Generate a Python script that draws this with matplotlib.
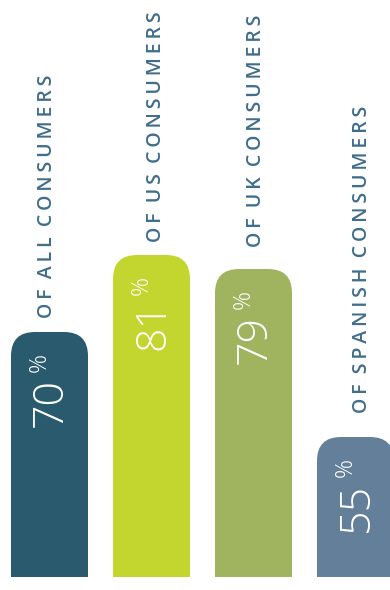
import matplotlib
matplotlib.use("Agg")
import matplotlib.pyplot as plt
from matplotlib.patches import FancyBboxPatch

labels = ["OF ALL CONSUMERS", "OF US CONSUMERS", "OF UK CONSUMERS", "OF SPANISH CONSUMERS"]
values = [70, 81, 79, 55]
colors = ["#2a5a6d", "#c2d62f", "#a0b35f", "#647f99"]
BASE = 35                      # value axis starts here (bars are height 7px per unit above 35)

W_PX, H_PX = 390, 590
PX_X, PX_Y = 102, 7            # pixels per x unit / per y unit
BOTTOM_PX = 13
label_gap = [10, 9, 16, 17]    # points between bar top and its caption
label_dx = [-1.5, 3, 2, 5]     # captions drift slightly right across the chart

fig = plt.figure(figsize=(W_PX / 100, H_PX / 100), dpi=100)
ax = fig.add_axes([0, BOTTOM_PX / H_PX, 1, 1 - BOTTOM_PX / H_PX])
ax.set_xlim(-49.5 / PX_X, (W_PX - 49.5) / PX_X)
ax.set_ylim(BASE, BASE + (H_PX - BOTTOM_PX) / PX_Y)
ax.axis("off")

w = 77 / PX_X
r = 24 / PX_X
asp = PX_X / PX_Y
sp = "\u2009"
num_font = ["Open Sans", "DejaVu Sans"]
for i, (lab, v, c) in enumerate(zip(labels, values, colors)):
    p = FancyBboxPatch((i - w / 2, BASE - 6), w, v - BASE + 6,
                       boxstyle=f"round,pad=0,rounding_size={r}",
                       mutation_aspect=asp, fc=c, ec="none", clip_on=True)
    ax.add_patch(p)
    ax.annotate(f"{v}", xy=(i, v), xytext=(1, -33), textcoords="offset points",
                rotation=90, ha="center", va="top", color="white",
                fontsize=31, fontweight="light", family=num_font)
    ax.annotate("%", xy=(i, v), xytext=(-7, -15), textcoords="offset points",
                rotation=90, ha="center", va="top", color="white",
                fontsize=17, fontweight="light", family=num_font)
    txt = "  ".join(sp.join(word) for word in lab.split(" "))
    ax.annotate(txt, xy=(i, v), xytext=(label_dx[i], label_gap[i]), textcoords="offset points",
                rotation=90, ha="center", va="bottom", color="#3f6d8b",
                fontsize=14, fontweight="semibold", family=["Open Sans", "DejaVu Sans"])

fig.savefig("out.png", dpi=100)
